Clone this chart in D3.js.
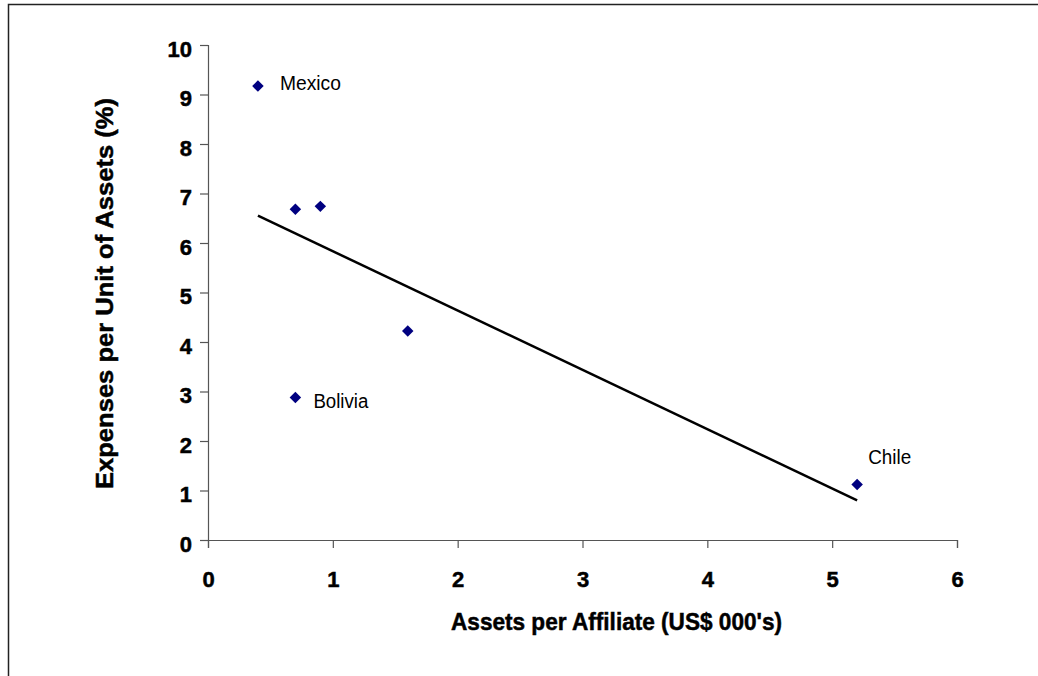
<!DOCTYPE html>
<html>
<head>
<meta charset="utf-8">
<script src="https://cdn.jsdelivr.net/npm/d3@7"></script>
<style>
  body { margin: 0; background: #fff; }
  svg { display: block; font-family: "Liberation Sans", Arial, sans-serif; }
  .heavy { stroke: #000; stroke-width: 0.5px; }
</style>
</head>
<body>
<div class="scatter"></div>
<script>
// data
var countries = ["Mexico", "", "", "", "Bolivia", "Chile"];
var assetsPerAffiliate = [0.40, 0.70, 0.90, 1.60, 0.70, 5.20];
var expensesPerAsset = [9.17, 6.68, 6.74, 4.22, 2.88, 1.12];
var xTicks = [0, 1, 2, 3, 4, 5, 6];
var yTicks = [0, 1, 2, 3, 4, 5, 6, 7, 8, 9, 10];

var svgWidth = 1038;
var svgHeight = 676;

var margin = {
  top: 45,
  right: 81,
  bottom: 136,
  left: 208
};

var width = svgWidth - margin.left - margin.right;
var height = svgHeight - margin.top - margin.bottom;

var svg = d3
  .select(".scatter")
  .append("svg")
  .attr("width", svgWidth)
  .attr("height", svgHeight);

// outer frame (only top and left show in the picture)
svg.append("rect")
  .attr("x", 8.5)
  .attr("y", 4.5)
  .attr("width", svgWidth + 20)
  .attr("height", svgHeight + 20)
  .attr("fill", "none")
  .attr("stroke", "#222")
  .attr("stroke-width", 1.5);

var chartGroup = svg.append("g")
  .attr("transform", `translate(${margin.left}, ${margin.top})`);

var xLinearScale = d3.scaleLinear()
  .domain([0, 6])
  .range([0, width]);

var yLinearScale = d3.scaleLinear()
  .domain([0, 10])
  .range([height, 0]);

var bottomAxis = d3.axisBottom(xLinearScale)
  .tickValues(xTicks)
  .tickSize(8)
  .tickPadding(0)
  .tickFormat(d3.format("d"));

var leftAxis = d3.axisLeft(yLinearScale)
  .tickValues(yTicks)
  .tickSize(8)
  .tickPadding(0)
  .tickFormat(d3.format("d"));

// x axis
var xAxis = chartGroup.append("g")
  .attr("transform", `translate(0, ${height})`)
  .attr("font-size", 22)
  .call(bottomAxis);

xAxis.selectAll("text")
  .attr("y", 47)
  .attr("dy", null);

// y axis
var yAxis = chartGroup.append("g")
  .attr("font-size", 22)
  .call(leftAxis);

yAxis.selectAll("text")
  .attr("x", -16)
  .attr("dy", "0.5em");

chartGroup.selectAll(".domain, .tick line")
  .attr("stroke", "#555")
  .attr("stroke-width", 1.2);

chartGroup.selectAll(".tick text")
  .attr("fill", "#000")
  .classed("heavy", true)
  .style("font-size", "22px")
  .style("font-weight", "bold")
  .style("font-family", "'Liberation Sans', Arial, sans-serif");

// least squares trend line
var xMean = d3.mean(assetsPerAffiliate);
var yMean = d3.mean(expensesPerAsset);
var sxy = d3.sum(assetsPerAffiliate, (x, i) => (x - xMean) * (expensesPerAsset[i] - yMean));
var sxx = d3.sum(assetsPerAffiliate, x => (x - xMean) * (x - xMean));
var slope = sxy / sxx;
var intercept = yMean - slope * xMean;
var trendX = d3.extent(assetsPerAffiliate);

chartGroup.append("line")
  .attr("x1", xLinearScale(trendX[0]))
  .attr("y1", yLinearScale(intercept + slope * trendX[0]))
  .attr("x2", xLinearScale(trendX[1]))
  .attr("y2", yLinearScale(intercept + slope * trendX[1]))
  .attr("stroke", "#000")
  .attr("stroke-width", 2.5);

// diamond markers
var diamond = d3.symbol().type(d3.symbolDiamond2).size(84);

chartGroup.selectAll("path.point")
  .data(assetsPerAffiliate)
  .enter()
  .append("path")
  .attr("class", "point")
  .attr("d", diamond)
  .attr("transform", (d, i) => `translate(${xLinearScale(d)}, ${yLinearScale(expensesPerAsset[i])})`)
  .attr("fill", "#000080");

// country labels, placed by hand like the original
var labelOffset = {
  "Mexico": [22, 4, 61],
  "Bolivia": [18, 11, 55],
  "Chile": [11, -21, 43]
};

chartGroup.selectAll("text.country")
  .data(countries.map((c, i) => ({ name: c, x: assetsPerAffiliate[i], y: expensesPerAsset[i] }))
    .filter(d => d.name !== ""))
  .enter()
  .append("text")
  .attr("class", "country")
  .attr("x", d => xLinearScale(d.x) + labelOffset[d.name][0])
  .attr("y", d => yLinearScale(d.y) + labelOffset[d.name][1])
  .attr("textLength", d => labelOffset[d.name][2])
  .attr("lengthAdjust", "spacingAndGlyphs")
  .attr("font-size", 20)
  .attr("fill", "#000")
  .text(d => d.name);

// axis titles
svg.append("text")
  .attr("class", "heavy")
  .attr("x", 616.5)
  .attr("y", 630)
  .attr("text-anchor", "middle")
  .attr("textLength", 331)
  .attr("lengthAdjust", "spacingAndGlyphs")
  .attr("font-size", 24)
  .attr("font-weight", "bold")
  .text("Assets per Affiliate (US$ 000's)");

svg.append("text")
  .attr("class", "heavy")
  .attr("transform", "translate(113, 293.5) rotate(-90)")
  .attr("text-anchor", "middle")
  .attr("textLength", 391)
  .attr("lengthAdjust", "spacingAndGlyphs")
  .attr("font-size", 24)
  .attr("font-weight", "bold")
  .text("Expenses per Unit of Assets (%)");
</script>
</body>
</html>
